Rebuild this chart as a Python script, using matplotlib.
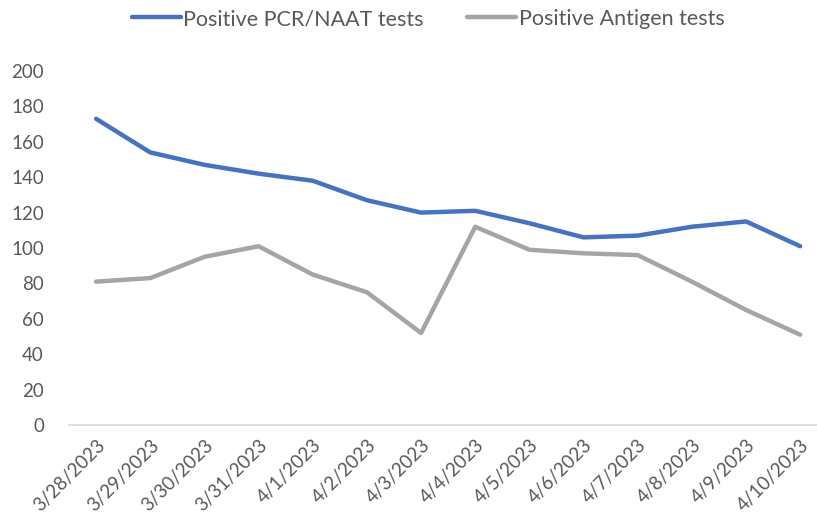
import matplotlib.pyplot as plt

dates = ['3/28/2023', '3/29/2023', '3/30/2023', '3/31/2023', '4/1/2023', '4/2/2023',
         '4/3/2023', '4/4/2023', '4/5/2023', '4/6/2023', '4/7/2023', '4/8/2023',
         '4/9/2023', '4/10/2023']
pcr = [173, 154, 147, 142, 138, 127, 120, 121, 114, 106, 107, 112, 115, 101]
antigen = [81, 83, 95, 101, 85, 75, 52, 112, 99, 97, 96, 81, 65, 51]

plt.rcParams['font.family'] = ['Lato', 'DejaVu Sans']
TXT = '#595959'

fig = plt.figure(figsize=(8.17, 5.32), dpi=100)
ax = fig.add_axes([69 / 817, 107 / 532, 748 / 817, 354 / 532])

x = range(len(dates))
ax.plot(x, pcr, color='#4472C4', lw=3.2, label='Positive PCR/NAAT tests', solid_capstyle='round')
ax.plot(x, antigen, color='#A5A5A5', lw=3.2, label='Positive Antigen tests', solid_capstyle='round')

ax.set_ylim(0, 200)
ax.set_xlim(-0.5, 13.31)
ax.set_yticks(range(0, 201, 20))
ax.set_xticks(list(x))
ax.set_xticklabels(dates, rotation=45, ha='right', va='top', rotation_mode='anchor')
ax.tick_params(axis='both', length=0, labelsize=13.5, colors=TXT)
ax.tick_params(axis='y', pad=18)
ax.tick_params(axis='x', pad=8)

for s in ['top', 'right', 'left']:
    ax.spines[s].set_visible(False)
ax.spines['bottom'].set_color('#D9D9D9')
ax.spines['bottom'].set_linewidth(1.2)

fig.legend(loc='center', bbox_to_anchor=(428 / 817, 1 - 19 / 532), ncol=2, frameon=False,
           fontsize=15.5, labelcolor=TXT, handlelength=2.3, handletextpad=0.1, columnspacing=2.0)

fig.savefig('out.png', dpi=100)
